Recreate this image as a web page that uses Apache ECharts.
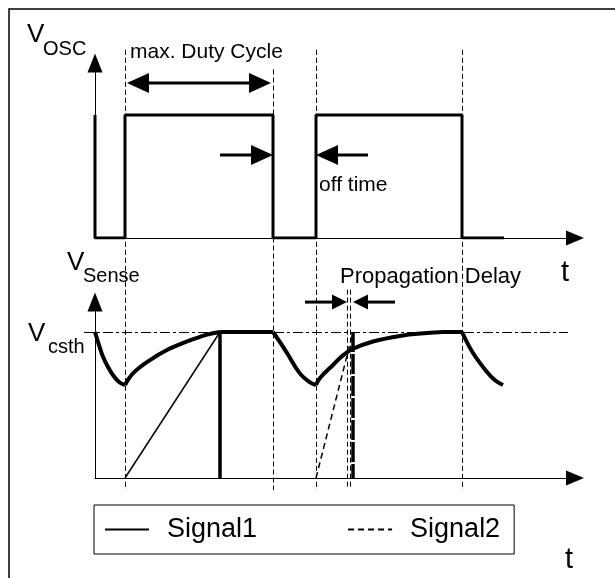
<!DOCTYPE html>
<html><head><meta charset="utf-8">
<script src="https://cdn.jsdelivr.net/npm/echarts@6/dist/echarts.min.js"></script>
<style>html,body{margin:0;padding:0;background:#fff}#c{width:615px;height:578px}</style>
</head><body><div id="c"></div>
<script>
// ---- data (time in arbitrary units, levels normalised: V_csth = 1) ----
const vOsc = [[0,1],[0,0],[3.0,0],[3.0,1],[17.8,1],[17.8,0],[22.1,0],[22.1,1],[36.7,1],[36.7,0],[40.9,0]];

const senseFall0 = [[0,1.0],[0.4,0.91],[0.8,0.83],[1.3,0.76],[1.8,0.705],[2.4,0.658],[3.0,0.637]];
const senseRise1 = [[3.0,0.637],[3.8,0.717],[5.5,0.808],[7.2,0.877],[9.2,0.935],[11.2,0.982],[12.5,1.0]];
const senseFlat1 = [[12.5,1.0],[17.8,1.0]];
const senseFall1 = [[17.8,1.0],[18.5,0.93],[19.2,0.856],[20.5,0.715],[21.5,0.655],[22.1,0.637]];
const senseRise2 = [[22.1,0.637],[22.5,0.685],[23.8,0.774],[24.8,0.84],[25.8,0.885],[27.8,0.935],[30.5,0.973],[33.2,0.993],[34.8,1.0]];
const senseFlat2 = [[34.8,1.0],[36.7,1.0]];
const senseFall2 = [[36.7,1.0],[37.8,0.856],[39.2,0.726],[40.0,0.67],[40.8,0.637]];

const signal1Ramp = [[3.0,0],[12.5,1.0]];
const signal1Cut  = [[12.5,1.0],[12.5,0]];
const signal2Ramp = [[22.1,0],[25.8,1.0]];
const signal2Cut  = [[25.8,1.0],[25.8,0]];

const guideTimes = [3.0, 17.8, 22.1, 36.7];
const guideTops  = [1.53, 1.37, 1.53, 1.53];   // in V_OSC units
const guideBottom = -2.05;
const delayGuideTimes = [25.2, 25.5];            // in V_Sense units
const delayGuideSpan = [1.29, -0.08];
const thresholdLevel = 1.0;
const thresholdSpan = [-1.1, 47.3];

const dutyArrow  = [[3.2, 1.26, 17.6, 1.26]];
const offArrows  = [[12.5, 0.675, 17.8, 0.675], [27.3, 0.675, 22.1, 0.675]];
const delayArrows = [[21.0, 1.205, 25.2, 1.205], [30.0, 1.205, 25.8, 1.205]];

const legendNames = ['Signal1', 'Signal2'];

// ---- chart ----
const FONT = '"Liberation Sans", Arial, sans-serif';
const chart = echarts.init(document.getElementById('c'), null, {renderer:'canvas'});

function axisX(g){return {gridIndex:g,type:'value',min:0,max:48,
  axisLine:{show:true,onZero:false,symbol:['none','triangle'],symbolSize:[15,18],lineStyle:{color:'#000',width:1}},
  axisTick:{show:false},axisLabel:{show:false},splitLine:{show:false}};}
function axisY(g,max){return {gridIndex:g,type:'value',min:0,max:max,
  axisLine:{show:true,onZero:false,symbol:['none','triangle'],symbolSize:[15,19],lineStyle:{color:'#000',width:1}},
  axisTick:{show:false},axisLabel:{show:false},splitLine:{show:false}};}

function lineSeries(name,data,g,style,smooth){
  return {type:'line',name:name,xAxisIndex:g,yAxisIndex:g,data:data,symbol:'none',smooth:smooth||false,
    lineStyle:Object.assign({color:'#000'},style),itemStyle:{color:'#000'},silent:true,animation:false,z:3};
}

function guideRender(dash){
  return function(params,api){
    const a=api.coord([api.value(0),api.value(1)]);
    const b=api.coord([api.value(0),api.value(2)]);
    const x=Math.round(a[0])+0.5;
    return {type:'line',shape:{x1:x,y1:a[1],x2:x,y2:b[1]},style:{stroke:'#000',lineWidth:1,lineDash:dash}};
  };
}
function hRender(dash){
  return function(params,api){
    const a=api.coord([api.value(0),api.value(2)]);
    const b=api.coord([api.value(1),api.value(2)]);
    const y=Math.round(a[1])+0.5;
    return {type:'line',shape:{x1:a[0],y1:y,x2:b[0],y2:y},style:{stroke:'#000',lineWidth:1,lineDash:dash}};
  };
}
function arrowRender(headLen,headW,lw,both){
  return function(params,api){
    const p=api.coord([api.value(0),api.value(1)]);
    const q=api.coord([api.value(2),api.value(3)]);
    const dx=q[0]-p[0],dy=q[1]-p[1],L=Math.hypot(dx,dy),ux=dx/L,uy=dy/L,nx=-uy,ny=ux;
    function head(tip,s){
      const bx=tip[0]-s*ux*headLen,by=tip[1]-s*uy*headLen;
      return {type:'polygon',shape:{points:[[tip[0],tip[1]],[bx+nx*headW/2,by+ny*headW/2],[bx-nx*headW/2,by-ny*headW/2]]},style:{fill:'#000'}};
    }
    const start=both?[p[0]+ux*headLen*0.8,p[1]+uy*headLen*0.8]:p;
    const end=[q[0]-ux*headLen*0.8,q[1]-uy*headLen*0.8];
    const ch=[{type:'line',shape:{x1:start[0],y1:start[1],x2:end[0],y2:end[1]},style:{stroke:'#000',lineWidth:lw}},head(q,1)];
    if(both) ch.push(head(p,-1));
    return {type:'group',children:ch};
  };
}

const series = [
  lineSeries('V_OSC', vOsc, 0, {width:3}),
  lineSeries('Signal1', senseFall0, 1, {width:4}, 0.4),
  lineSeries('Signal1', senseRise1, 1, {width:4}, 0.4),
  lineSeries('Signal1', senseFlat1, 1, {width:4}),
  lineSeries('Signal1', senseFall1, 1, {width:4}, 0.4),
  lineSeries('Signal1', senseRise2, 1, {width:4}, 0.4),
  lineSeries('Signal1', senseFlat2, 1, {width:4}),
  lineSeries('Signal1', senseFall2, 1, {width:4}, 0.4),
  lineSeries('Signal1', signal1Ramp, 1, {width:1.5}),
  lineSeries('Signal1', signal1Cut, 1, {width:3.5}),
  lineSeries('Signal2', signal2Ramp, 1, {width:1.5, type:[6,4]}),
  lineSeries('Signal2', signal2Cut, 1, {width:3.5, type:[20,2]}),
  {type:'custom',name:'guides',xAxisIndex:0,yAxisIndex:0,silent:true,animation:false,z:1,
    data:guideTimes.map((t,i)=>[t,guideTops[i],guideBottom]),renderItem:guideRender([5,3])},
  {type:'custom',name:'delayGuides',xAxisIndex:1,yAxisIndex:1,silent:true,animation:false,z:1,
    data:delayGuideTimes.map(t=>[t,delayGuideSpan[0],delayGuideSpan[1]]),renderItem:guideRender([5,3])},
  {type:'custom',name:'threshold',xAxisIndex:1,yAxisIndex:1,silent:true,animation:false,z:1,
    data:[[thresholdSpan[0],thresholdSpan[1],thresholdLevel]],renderItem:hRender([10,3,3,3])},
  {type:'custom',name:'duty',xAxisIndex:0,yAxisIndex:0,silent:true,animation:false,z:4,
    data:dutyArrow,renderItem:arrowRender(22,20,3,true)},
  {type:'custom',name:'off',xAxisIndex:0,yAxisIndex:0,silent:true,animation:false,z:4,
    data:offArrows,renderItem:arrowRender(22,20,3,false)},
  {type:'custom',name:'delay',xAxisIndex:1,yAxisIndex:1,silent:true,animation:false,z:4,
    data:delayArrows,renderItem:arrowRender(15,15,3,false)}
];

function txt(s,x,y,size){return {type:'text',x:x,y:y,silent:true,z:10,
  style:{text:s,fill:'#000',fontSize:size,fontFamily:FONT,textAlign:'left',textVerticalAlign:'middle'}};}

chart.setOption({
  animation:false,
  backgroundColor:'#fff',
  grid:[{left:95,top:63,width:480,height:175},{left:95,top:302,width:480,height:176}],
  xAxis:[axisX(0),axisX(1)],
  yAxis:[axisY(0,1.423),axisY(1,1.2055)],
  legend:{data:legendNames,left:94,top:505,orient:'horizontal',itemWidth:44,itemHeight:4,itemGap:90,
    padding:[11,14,11,10],borderColor:'#000',borderWidth:1,selectedMode:false,
    lineStyle:{width:2},itemStyle:{color:'rgba(0,0,0,0)',borderWidth:0},
    textStyle:{fontSize:27,fontFamily:FONT,color:'#000',padding:[0,0,0,13]}},
  series:series,
  graphic:[
    {type:'rect',shape:{x:9,y:9,width:640,height:600},style:{fill:'none',stroke:'#000',lineWidth:1.5},silent:true,z:0},
    txt('V',27,35,26), txt('OSC',43,49,20),
    txt('max. Duty Cycle',130,52,21),
    txt('off time',319,185,21),
    txt('V',67,263,26), txt('Sense',83,276,20),
    txt('V',28,334,26), txt('csth',48,347,20),
    txt('Propagation Delay',340,277,22),
    txt('t',561,273,29),
    txt('t',565,560,29)
  ]
});
</script></body></html>
